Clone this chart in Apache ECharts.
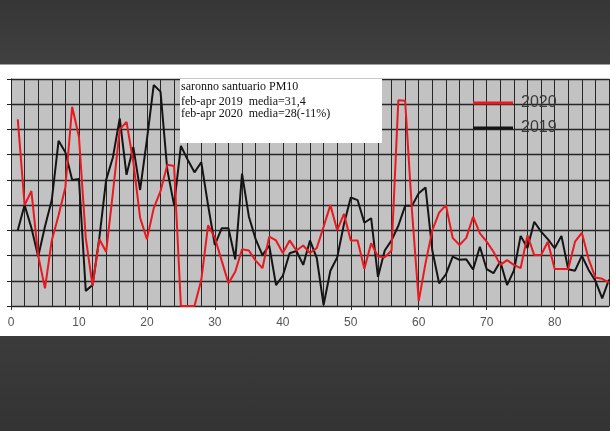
<!DOCTYPE html>
<html><head><meta charset="utf-8">
<script src="https://cdn.jsdelivr.net/npm/echarts@6/dist/echarts.min.js"></script>
<style>
html,body{margin:0;padding:0;width:610px;height:431px;overflow:hidden;}
body{background:linear-gradient(to bottom,#363636 0,#404040 64px,#ffffff 65px,#ffffff 336px,#3b3b3b 336px,#333333 431px);}
#chart{width:610px;height:431px;}
</style></head><body><div id="chart"></div>
<script>
const days = [1,2,3,4,5,6,7,8,9,10,11,12,13,14,15,16,17,18,19,20,21,22,23,24,25,26,27,28,29,30,
  31,32,33,34,35,36,37,38,39,40,41,42,43,44,45,46,47,48,49,50,51,52,53,54,55,56,57,58,59,60,
  61,62,63,64,65,66,67,68,69,70,71,72,73,74,75,76,77,78,79,80,81,82,83,84,85,86,87,88];
const pm2020 = [74,40,45.6,20,7,26,36,47,79,67,27,8,26.5,21.5,45,70,73,57,35,26.5,
  38.7,45.5,56,55.5,0,0,0,10.3,32,27,18,9,13.6,22.5,22,18,15,27.5,26,21,
  26,22,24,21,23,31.4,40,30,36.5,26,26,14.8,24.9,19.6,19.3,22,81.6,81.4,38,2,
  17,30,37,40,27,24.2,27,35.4,28.8,25.5,21.5,16.3,18.2,16.3,15,28,20.2,20.2,25.5,14.7,
  14.7,14.7,25.5,29,18.6,11.3,10.8,9.3];
const pm2019 = [30,40,31,19.6,31.5,42,65.5,61,50,50.4,6,8.3,27,50,59,74.4,52,63,46,66,
  87.6,85,54,40,63.5,58,53,57,40,24.2,30.8,30.8,18.5,52.5,35.5,26.5,20.2,24,8.3,12,
  20.9,21.8,16.3,26,19,0.4,14,19.2,32.5,43,42,33,34.8,11.5,22,26,31.8,39.7,39.7,44.7,
  47,22,9,12.5,19.6,18.3,18.5,14.5,23.5,14.6,13,17.6,8.3,14,27.8,23,33.4,29.5,26.5,22.9,
  27.8,14.6,14,19.9,14.3,10,3,10.5];
const seriesNames = ['2020','2019'];
const noteLines = ['saronno santuario PM10','feb-apr 2019  media=31,4','feb-apr 2020  media=28(-11%)'];

const chart = echarts.init(document.getElementById('chart'), null, {renderer:'canvas'});
const gridLine = {color:'#262626', width:1};
chart.setOption({
  backgroundColor:'transparent',
  animation:false,
  grid:{left:11, right:1, top:79, bottom:125, show:true, backgroundColor:'#c2c2c2', borderWidth:0},
  xAxis:{type:'value', min:0, max:88, interval:10,
    axisLine:{show:true, lineStyle:{color:'#222', width:1}},
    axisTick:{show:true, length:4, lineStyle:{color:'#333'}},
    axisLabel:{color:'#555', fontSize:12, margin:11, fontFamily:'Liberation Sans', showMaxLabel:false},
    splitLine:{show:true, lineStyle:gridLine},
    minorTick:{show:false, splitNumber:5},
    minorSplitLine:{show:true, lineStyle:gridLine}
  },
  yAxis:{type:'value', min:0, max:90, interval:10,
    axisLine:{show:true, lineStyle:{color:'#222', width:1}},
    axisTick:{show:true, length:4, lineStyle:{color:'#222'}},
    axisLabel:{show:false},
    splitLine:{show:true, lineStyle:{color:'#262626', width:1.4}}
  },
  legend:{data:seriesNames, orient:'vertical', left:473, top:95, icon:'rect',
    itemWidth:40, itemHeight:3, itemGap:9, padding:0,
    textStyle:{fontSize:16, color:'#3a3a3a', fontFamily:'Liberation Sans', padding:[0,0,0,3]}},
  graphic:[
    {type:'rect', shape:{x:180, y:79, width:202, height:64}, style:{fill:'#ffffff'}, z:10},
    {type:'text', x:181, y:86.5, style:{text:noteLines[0], font:'12px "Liberation Serif"', fill:'#111', verticalAlign:'middle'}, z:11},
    {type:'text', x:181, y:101.5, style:{text:noteLines[1], font:'12px "Liberation Serif"', fill:'#111', verticalAlign:'middle'}, z:11},
    {type:'text', x:181, y:114, style:{text:noteLines[2], font:'12px "Liberation Serif"', fill:'#111', verticalAlign:'middle'}, z:11}
  ],
  series:[
    {name:seriesNames[1], type:'line', data:days.map((d,i)=>[d,pm2019[i]]), symbol:'none',
      lineStyle:{color:'#141414', width:2}, itemStyle:{color:'#141414'}, z:3},
    {name:seriesNames[0], type:'line', data:days.map((d,i)=>[d,pm2020[i]]), symbol:'none',
      lineStyle:{color:'#e8191f', width:2}, itemStyle:{color:'#e8191f'}, z:4}
  ]
});
</script></body></html>
